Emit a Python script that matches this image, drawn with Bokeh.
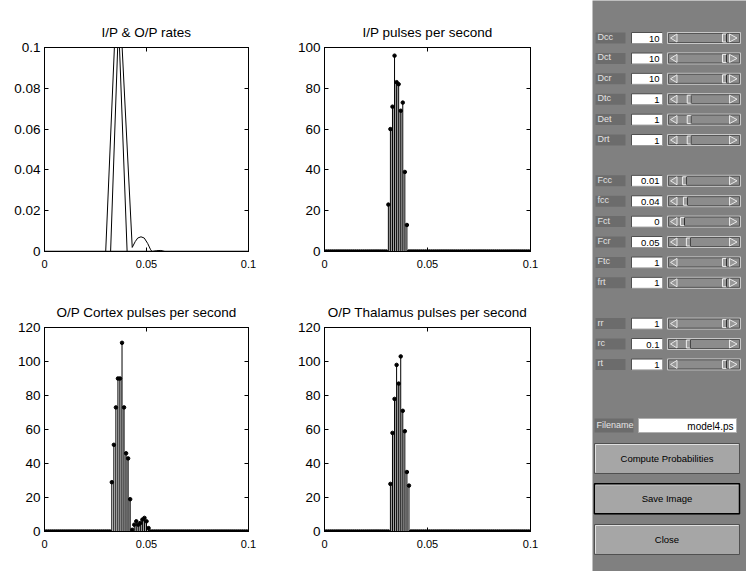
import numpy as np
from bokeh.plotting import figure
from bokeh.layouts import row, column
from bokeh.models import Range1d, FixedTicker, LinearAxis, CustomJSTickFormatter, ColumnDataSource
from bokeh.core.properties import value
from bokeh.embed import file_html
from bokeh.resources import INLINE

# ---------------- data ----------------
# sample times (s) of the pulse histograms
t = np.round(np.arange(0, 0.1005, 0.001), 3)

ip_pulses = [0] * 31 + [23, 60, 71, 96, 83, 82, 69, 73, 39, 13] + [0] * 60
cortex_pulses = [0] * 33 + [29, 51, 73, 90, 90, 111, 73, 46, 43, 19,
                            1, 4, 6, 4, 5, 7, 8, 6, 2] + [0] * 49
thalamus_pulses = [0] * 32 + [28, 58, 78, 98, 87, 103, 71, 59, 35, 27] + [0] * 59

# rate curves (I/P & O/P rates)
ip_rate_t = [0.0, 0.0324, 0.0363, 0.0405, 0.1]
ip_rate = [0.0, 0.0, 0.1125, 0.0, 0.0]
op_rate_t = [0.0, 0.030, 0.036, 0.043, 0.0445, 0.0457, 0.0473, 0.0489, 0.0506,
             0.0519, 0.0527, 0.055, 0.057, 0.059, 0.1]
op_rate = [0.0, 0.0, 0.1408, 0.002, 0.0049, 0.0066, 0.0072, 0.0066, 0.0039,
           0.0011, 0.0, 0.0004, 0.0005, 0.0, 0.0]

x_ticks = [0, 0.05, 0.1]
rate_ticks = [0, 0.02, 0.04, 0.06, 0.08, 0.1]
ip_ticks = [0, 20, 40, 60, 80, 100]
op_ticks = [0, 20, 40, 60, 80, 100, 120]

titles = ["I/P & O/P rates", "I/P pulses per second",
          "O/P Cortex pulses per second", "O/P Thalamus pulses per second"]

# control panel contents
param_groups = [["Dcc", "Dct", "Dcr", "Dtc", "Det", "Drt"],
                ["Fcc", "fcc", "Fct", "Fcr", "Ftc", "frt"],
                ["rr", "rc", "rt"]]
param_values = [["10", "10", "10", "1", "1", "1"],
                ["0.01", "0.04", "0", "0.05", "1", "1"],
                ["1", "0.1", "1"]]
slider_pos = [[1, 1, 1, 0.16, 0.16, 0.16],
              [0.05, 0.07, 0.0, 0.14, 1, 1],
              [1, 0.14, 1]]
filename = "model4.ps"
buttons = ["Compute Probabilities", "Save Image", "Close"]

FONT = "Liberation Sans"
FMT = CustomJSTickFormatter(code="return String(tick)")


def base_fig(title, width, height, ymax, yticks, left_b, right_b, top_b, bottom_b):
    p = figure(width=width, height=height, x_range=Range1d(0, 0.1),
               y_range=Range1d(0, ymax), output_backend="svg",
               toolbar_location=None, min_border_left=left_b,
               min_border_right=right_b, min_border_top=top_b,
               min_border_bottom=bottom_b,
               background_fill_color="white", border_fill_color="white",
               outline_line_color="black", outline_line_width=1)
    p.grid.visible = False
    p.title.text = title
    p.title.text_font = FONT
    p.title.text_font_size = "13.5px"
    p.title.text_font_style = "normal"
    p.title.align = "center"
    p.title.text_color = "black"
    p.title.standoff = 15
    p.xaxis.ticker = FixedTicker(ticks=x_ticks)
    p.yaxis.ticker = FixedTicker(ticks=yticks)
    p.xaxis.formatter = FMT
    p.yaxis.formatter = FMT
    p.xaxis.major_label_standoff = 8
    p.yaxis.major_label_standoff = 4
    top_ax = LinearAxis(ticker=FixedTicker(ticks=x_ticks),
                        formatter=CustomJSTickFormatter(code="return ''"),
                        major_label_text_font_size="0px", major_label_standoff=0)
    right_ax = LinearAxis(ticker=FixedTicker(ticks=yticks),
                          formatter=CustomJSTickFormatter(code="return ''"),
                          major_label_text_font_size="0px", major_label_standoff=0)
    p.add_layout(top_ax, "above")
    p.add_layout(right_ax, "right")
    for ax in p.axis:
        ax.major_tick_in = 4
        ax.major_tick_out = 0
        ax.minor_tick_line_color = None
        ax.axis_line_color = "black"
        ax.major_tick_line_color = "black"
        ax.major_label_text_font = FONT
        ax.major_label_text_color = "black"
    p.xaxis[0].major_label_text_font_size = "13.5px"
    p.yaxis[0].major_label_text_font_size = "13.5px"
    return p


def stem_fig(title, width, height, vals, ymax, yticks, left_b, right_b, top_b, bottom_b):
    p = base_fig(title, width, height, ymax, yticks, left_b, right_b, top_b, bottom_b)
    v = np.array(vals, dtype=float)
    src = ColumnDataSource(dict(left=t[:-1], right=t[1:],
                                top=np.minimum(v[:-1], v[1:])))
    p.quad(left="left", right="right", bottom=0, top="top", source=src,
           fill_alpha=0, line_alpha=0, hatch_pattern="vertical_line",
           hatch_scale=2, hatch_weight=1, hatch_color="black", hatch_alpha=0.75)
    p.segment(x0=t, y0=0, x1=t, y1=v, line_color="black", line_width=1)
    p.scatter(t, v, size=3.5, color="black", marker="circle")
    return p


# frames: left plots 44..248, right plots 324..530; top row 47..251, bottom row 327..531
f1 = base_fig(titles[0], 288, 288, 0.1, rate_ticks, 44, 40, 47, 37)
f1.line(ip_rate_t, ip_rate, line_color="black", line_width=1)
f1.line(op_rate_t, op_rate, line_color="black", line_width=1)
f1.line([0, 0.1], [0, 0], line_color="black", line_width=1.5)

f2 = stem_fig(titles[1], 304, 288, ip_pulses, 100, ip_ticks, 36, 62, 47, 37)
f3 = stem_fig(titles[2], 288, 283, cortex_pulses, 120, op_ticks, 44, 40, 39, 40)
f4 = stem_fig(titles[3], 304, 283, thalamus_pulses, 120, op_ticks, 36, 62, 39, 40)

# ---------------- control panel ----------------
PANEL = "#808080"
panel = figure(width=154, height=571, x_range=Range1d(592, 746),
               y_range=Range1d(571, 0), output_backend="svg",
               toolbar_location=None, min_border=0,
               x_axis_location=None, y_axis_location=None,
               background_fill_color=PANEL, border_fill_color=PANEL,
               outline_line_color=None)
panel.grid.visible = False

row_labels, row_values, row_thumbs, row_y = [], [], [], []
slot = 0
for g, (names, vals, pos) in enumerate(zip(param_groups, param_values, slider_pos)):
    for n, vv, ps in zip(names, vals, pos):
        row_labels.append(n)
        row_values.append(vv)
        row_thumbs.append(ps)
        row_y.append(37.5 + 20.4 * slot)
        slot += 1
    slot += 1
row_y = np.array(row_y)
h = 5.5

# label boxes
panel.quad(left=595, right=625, top=row_y - h, bottom=row_y + h,
           fill_color="#6c6c6c", line_color=None)
panel.text(x=597, y=row_y - 1, text=row_labels, text_font=value(FONT),
           text_font_size="9px", text_color="#e4e4e4", text_baseline="middle")
# edit boxes
panel.quad(left=631, right=662, top=row_y - h, bottom=row_y + h,
           fill_color="white", line_color="#9a9a9a", line_width=1)
panel.segment(x0=631, y0=row_y - h, x1=662, y1=row_y - h, line_color="#505050")
panel.segment(x0=631, y0=row_y - h, x1=631, y1=row_y + h, line_color="#505050")
panel.text(x=659, y=row_y + 0.5, text=row_values, text_font=value(FONT),
           text_font_size="9.5px", text_color="black", text_align="right",
           text_baseline="middle")
# sliders
panel.quad(left=667, right=740, top=row_y - h, bottom=row_y + h,
           fill_color="#8c8c8c", line_color="#c8c8c8", line_width=1)
panel.quad(left=668, right=739, top=row_y - h + 1, bottom=row_y + h - 1,
           fill_alpha=0, line_color="#555555", line_width=1)
larr_x = [[670, 676.5, 676.5] for _ in row_y]
larr_y = [[y, y - 4, y + 4] for y in row_y]
rarr_x = [[736.5, 729, 729] for _ in row_y]
panel.patches(larr_x, larr_y, fill_color="#999999", line_color="#e8e8e8", line_width=1)
panel.patches(rarr_x, larr_y, fill_color="#999999", line_color="#e8e8e8", line_width=1)
thumb_l = 680 + np.array(row_thumbs) * 42
panel.quad(left=thumb_l, right=thumb_l + 4, top=row_y - 4, bottom=row_y + 4,
           fill_color="#9c9c9c", line_color="#f0f0f0", line_width=1)
panel.segment(x0=thumb_l + 4, y0=row_y - 4, x1=thumb_l + 4, y1=row_y + 4,
              line_color="#303030", line_width=1)

# filename row
fy = 425
panel.quad(left=594, right=633, top=fy - 7, bottom=fy + 7,
           fill_color="#6c6c6c", line_color=None)
panel.text(x=596, y=fy - 1, text=["Filename"], text_font=value(FONT),
           text_font_size="9px", text_color="#e4e4e4", text_baseline="middle")
panel.quad(left=638, right=736, top=fy - 7, bottom=fy + 7,
           fill_color="white", line_color="#b0b0b0", line_width=1)
panel.text(x=733, y=fy + 0.5, text=[filename], text_font=value(FONT),
           text_font_size="10px", text_color="black", text_align="right",
           text_baseline="middle")

# buttons
by = np.array([458, 498.3, 539])
panel.quad(left=594, right=739, top=by - 15, bottom=by + 15,
           fill_color="#a6a6a6", line_color="#505050", line_width=1)
panel.segment(x0=595, y0=by - 14, x1=738, y1=by - 14, line_color="#e0e0e0")
panel.segment(x0=595, y0=by - 14, x1=595, y1=by + 14, line_color="#e0e0e0")
panel.quad(left=594, right=739, top=by[1] - 15, bottom=by[1] + 15,
           fill_alpha=0, line_color="black", line_width=1.5)
panel.text(x=666.5, y=by, text=buttons, text_font=value(FONT),
           text_font_size="9.5px", text_color="black", text_align="center",
           text_baseline="middle")

layout = row(column(row(f1, f2), row(f3, f4)), panel)

open("out.html", "w").write(file_html(layout, INLINE))
